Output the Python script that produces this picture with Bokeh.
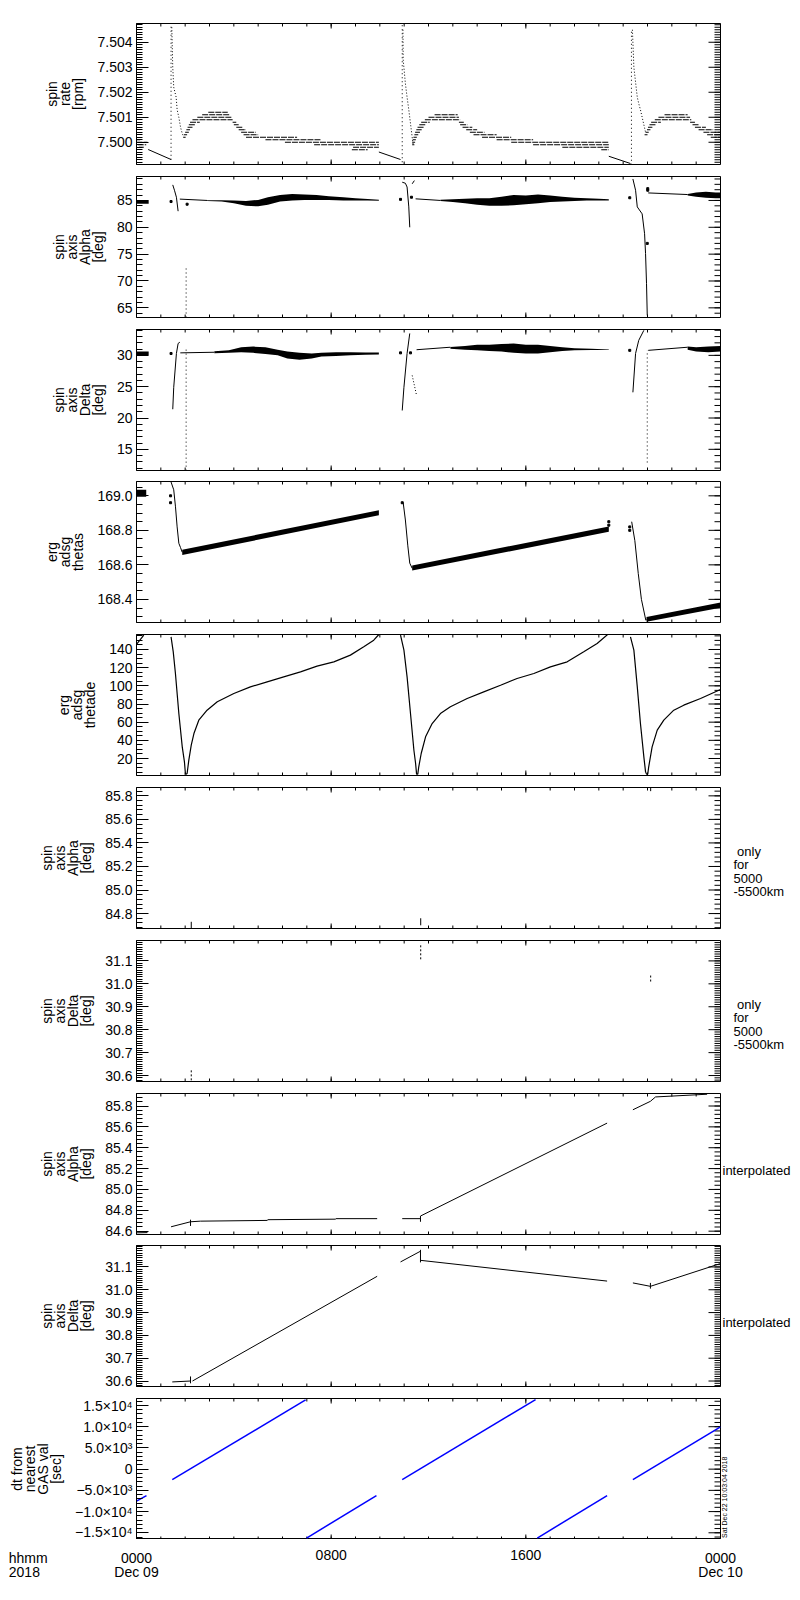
import numpy as np
from bokeh.plotting import figure
from bokeh.models import Range1d, FixedTicker, LinearAxis, PrintfTickFormatter
from bokeh.layouts import column
from bokeh.embed import file_html
from bokeh.resources import INLINE
from bokeh.core.properties import value

FONT = "Liberation Sans"
NB = "\u00a0"

# ---------------- data (hours since 2018-12-09 00:00) ----------------
x_major = [0, 8, 16, 24]
x_minor = list(range(25))
x_tick_text = ["0000\nDec 09", "0800", "1600", "0000\nDec 10"]
corner_text = "hhmm\n2018"
stamp_text = "Sat Dec 22 10:03:04 2018"

# Panel 1: spin rate [rpm] - quantized level segments
p1_seg_start = [0.00, 0.00, 0.05, 0.10,
                1.92, 1.95, 2.00, 2.05, 2.10, 2.15, 2.20, 2.30, 2.50, 2.70, 2.95,
                3.95, 4.00, 4.10, 4.20, 4.30, 4.40, 4.50, 5.30, 6.10, 7.30, 8.90, 8.85,
                11.33, 11.33, 11.35, 11.38, 11.42, 11.45, 11.50, 11.55, 11.62, 11.70, 11.85, 12.00, 12.25,
                13.25, 13.30, 13.40, 13.55, 13.70, 13.85, 14.20, 14.80, 15.40, 16.30, 17.50, 19.10,
                20.88, 20.92, 20.98, 21.02, 21.08, 21.15, 21.30, 21.45, 21.70,
                22.75, 22.85, 22.95, 23.10, 23.30, 23.45, 23.60]
p1_seg_end = [0.15, 0.45, 0.40, 0.30,
              2.02, 2.08, 2.15, 2.20, 2.30, 2.40, 2.60, 3.95, 3.90, 3.85, 3.75,
              4.10, 4.20, 4.35, 4.50, 4.90, 5.00, 6.60, 7.60, 9.96, 9.96, 9.96, 9.50,
              11.42, 11.45, 11.48, 11.52, 11.58, 11.65, 11.72, 11.80, 11.90, 12.05, 13.30, 13.25, 13.20,
              13.45, 13.60, 13.80, 14.00, 14.30, 14.80, 15.40, 16.30, 19.41, 19.41, 19.41, 19.41,
              21.00, 21.05, 21.12, 21.20, 21.35, 21.55, 22.80, 22.75, 22.65,
              22.95, 23.10, 23.40, 23.70, 24.00, 24.00, 24.00]
p1_seg_level = [7.5001, 7.5000, 7.4999, 7.4998,
                7.5002, 7.5003, 7.5004, 7.5005, 7.5006, 7.5007, 7.5008, 7.5009, 7.5010, 7.5011, 7.5012,
                7.5008, 7.5007, 7.5006, 7.5005, 7.5004, 7.5003, 7.5002, 7.5001, 7.5000, 7.4999, 7.4998, 7.4997,
                7.4999, 7.5000, 7.5001, 7.5002, 7.5003, 7.5004, 7.5005, 7.5006, 7.5007, 7.5008, 7.5009, 7.5010, 7.5011,
                7.5008, 7.5007, 7.5006, 7.5005, 7.5004, 7.5003, 7.5002, 7.5001, 7.5000, 7.4999, 7.4998, 7.4997,
                7.5003, 7.5004, 7.5005, 7.5006, 7.5007, 7.5008, 7.5009, 7.5010, 7.5011,
                7.5008, 7.5007, 7.5006, 7.5005, 7.5004, 7.5003, 7.5002]
p1_decay_h = [[0.48, 1.42], [9.96, 10.85], [19.41, 20.30]]
p1_decay_v = [[7.49971, 7.49931], [7.49961, 7.49931], [7.49944, 7.49915]]
p1_spike_h = [1.42, 10.92, 20.34]
p1_spike_lo = [7.4993, 7.4992, 7.4991]
p1_spike_hi = [7.5047, 7.5047, 7.5045]
p1_fall_h = [[1.45, 1.49, 1.53, 1.63, 1.67, 1.74, 1.81, 1.88, 1.95],
             [10.95, 10.96, 11.05, 11.12, 11.19, 11.26, 11.33, 11.37],
             [20.38, 20.44, 20.51, 20.58, 20.64, 20.71, 20.78, 20.85, 20.92]]
p1_fall_v = [[7.5046, 7.5030, 7.5022, 7.5018, 7.5013, 7.5010, 7.5006, 7.50035, 7.5002],
             [7.5045, 7.5033, 7.50235, 7.5018, 7.5013, 7.50075, 7.5002, 7.4999],
             [7.5045, 7.5030, 7.5024, 7.5018, 7.50155, 7.5013, 7.5010, 7.5007, 7.5004]]

# Panel 2: spin axis Alpha [deg]
p2_curve_h = [[1.49, 1.56, 1.64, 1.71], [1.78, 2.9], [10.92, 11.05, 11.12, 11.19, 11.23],
              [11.33, 11.42], [11.47, 12.49],
              [20.40, 20.51, 20.58, 20.78, 20.88, 20.92, 20.96, 20.99], [21.03, 22.65]]
p2_curve_v = [[87.9, 86.9, 85.6, 83.0], [85.25, 85.0], [88.4, 88.2, 87.5, 83.8, 80.0],
              [88.1, 88.7], [85.3, 85.0],
              [89.0, 86.9, 83.8, 82.5, 78.8, 75.1, 69.5, 63.6], [86.4, 86.1]]
p2_dot_h = [1.42, 2.08, 10.85, 11.30, 20.27, 21.01, 21.01, 20.99]
p2_dot_v = [84.8, 84.3, 85.2, 85.6, 85.5, 87.2, 86.9, 77.0]
p2_vert_h = [2.04]
p2_vert_lo = [63.2]
p2_vert_hi = [72.5]
p2_band_h = [[0.0, 0.5],
             [2.9, 3.5, 4.0, 4.5, 5.0, 5.4, 5.9, 6.4, 6.9, 7.4, 7.9, 8.5, 9.0, 9.5, 9.96],
             [12.49, 13.0, 13.5, 14.0, 14.5, 15.0, 15.5, 16.0, 16.5, 17.0, 17.5, 18.0, 18.5, 19.0, 19.41],
             [22.65, 23.0, 23.4, 23.8, 24.0]]
p2_band_lo = [[84.4, 84.4],
              [84.9, 84.8, 84.5, 84.0, 83.9, 84.2, 84.8, 85.0, 85.1, 85.1, 85.1, 85.0, 85.0, 85.0, 84.95],
              [84.9, 84.7, 84.5, 84.2, 84.0, 84.0, 84.1, 84.3, 84.5, 84.7, 84.8, 84.9, 85.0, 85.0, 85.0],
              [85.9, 85.7, 85.5, 85.4, 85.4]]
p2_band_hi = [[85.0, 85.0],
              [85.05, 85.05, 85.0, 84.9, 85.1, 85.6, 86.0, 86.2, 86.1, 86.0, 85.8, 85.6, 85.4, 85.25, 85.15],
              [85.15, 85.2, 85.3, 85.4, 85.4, 85.7, 86.0, 85.9, 86.1, 85.9, 85.7, 85.5, 85.4, 85.3, 85.2],
              [86.2, 86.5, 86.6, 86.5, 86.5]]

# Panel 3: spin axis Delta [deg]
p3_curve_h = [[1.49, 1.53, 1.64, 1.71, 1.78], [1.80, 3.2], [10.92, 10.99, 11.12, 11.23],
              [11.51, 12.9], [20.40, 20.51, 20.64, 20.85], [21.03, 22.65]]
p3_curve_v = [[21.4, 24.9, 30.3, 31.9, 32.1], [30.4, 30.5], [21.2, 24.9, 30.3, 33.5],
              [30.9, 31.3], [24.1, 30.3, 32.4, 34.0], [30.8, 31.3]]
p3_fall_h = [[11.33, 11.42, 11.51]]
p3_fall_v = [[26.8, 25.2, 23.6]]
p3_dot_h = [1.42, 10.85, 11.26, 20.27]
p3_dot_v = [30.3, 30.4, 30.4, 30.8]
p3_vert_h = [2.04, 20.99]
p3_vert_lo = [11.6, 12.9]
p3_vert_hi = [31.3, 30.8]
p3_band_h = [[0.0, 0.5],
             [3.2, 3.8, 4.3, 4.8, 5.3, 5.8, 6.2, 6.7, 7.2, 7.6, 8.2, 8.8, 9.4, 9.96],
             [12.9, 13.5, 14.0, 14.5, 15.0, 15.5, 16.0, 16.5, 17.0, 17.5, 18.0, 18.7, 19.41],
             [22.65, 23.0, 23.5, 24.0]]
p3_band_lo = [[30.0, 30.0],
              [30.35, 30.4, 30.5, 30.4, 30.2, 30.0, 29.5, 29.3, 29.5, 29.8, 29.9, 30.0, 30.1, 30.15],
              [31.05, 30.9, 30.8, 30.7, 30.6, 30.4, 30.3, 30.3, 30.5, 30.7, 30.8, 30.85, 30.85],
              [30.9, 30.6, 30.5, 30.6]]
p3_band_hi = [[30.6, 30.6],
              [30.65, 30.8, 31.3, 31.4, 31.3, 30.9, 30.6, 30.4, 30.3, 30.4, 30.5, 30.5, 30.45, 30.45],
              [31.35, 31.5, 31.7, 31.7, 31.8, 31.9, 31.7, 31.7, 31.5, 31.3, 31.15, 31.05, 30.95],
              [31.4, 31.3, 31.4, 31.5]]

# Panel 4: erg adsg thetas
p4_curve_h = [[1.42, 1.53, 1.60, 1.67, 1.74, 1.81, 1.88],
              [10.96, 11.05, 11.15, 11.23, 11.33],
              [20.35, 20.48, 20.62, 20.75, 20.93, 20.96]]
p4_curve_v = [[169.08, 169.035, 168.94, 168.82, 168.725, 168.70, 168.673],
              [168.96, 168.86, 168.71, 168.61, 168.58],
              [168.85, 168.74, 168.55, 168.40, 168.28, 168.284]]
p4_dot_h = [1.40, 1.40, 10.92, 19.41, 19.41, 20.27, 20.27]
p4_dot_v = [169.0, 168.96, 168.96, 168.85, 168.83, 168.82, 168.80]
p4_band_h = [[0.0, 0.4], [1.88, 9.96], [11.33, 19.41], [20.96, 24.0]]
p4_band_lo = [[168.995, 168.995], [168.657, 168.887], [168.567, 168.792], [168.270, 168.352]]
p4_band_hi = [[169.035, 169.035], [168.687, 168.917], [168.597, 168.822], [168.298, 168.382]]

# Panel 5: erg adsg thetade
p5_h = [[0.0, 0.30],
        [1.42, 1.51, 1.60, 1.74, 1.88, 1.97, 2.01, 2.04, 2.08, 2.15, 2.25, 2.36, 2.56, 2.90, 3.32,
         4.0, 4.68, 5.37, 6.05, 6.74, 7.42, 8.11, 8.79, 9.34, 9.75, 9.96],
        [10.85, 10.99, 11.12, 11.26, 11.40, 11.47, 11.51, 11.56, 11.60, 11.70, 11.88, 12.15, 12.49,
         12.90, 13.59, 14.27, 14.96, 15.64, 16.33, 17.01, 17.70, 18.38, 18.93, 19.41],
        [20.30, 20.44, 20.58, 20.71, 20.85, 20.92, 20.96, 21.01, 21.05, 21.19, 21.40, 21.67, 22.08,
         22.49, 23.18, 24.0]]
p5_v = [[145.6, 155.8],
        [153.9, 137.4, 113.6, 69.5, 32.8, 16.3, 3.5, 2.8, 3.5, 18.2, 34.7, 47.5, 62.2, 73.2, 82.4,
         91.6, 98.9, 104.4, 109.9, 115.4, 121.7, 126.4, 133.8, 142.9, 150.3, 156.5],
        [155.8, 139.3, 109.9, 69.5, 29.1, 14.5, 2.8, 2.8, 10.9, 25.5, 43.9, 58.5, 69.5,
         76.9, 86.1, 93.4, 100.7, 108.1, 113.6, 120.9, 126.4, 137.4, 146.6, 157.6],
        [153.9, 139.3, 98.9, 58.5, 21.8, 5.3, 2.8, 2.8, 10.9, 32.8, 51.2, 62.2, 73.2,
         78.7, 86.1, 96.0]]

# Panel 6 / 7: only for 5000-5500 km
p6_mark_h = [2.25, 11.68, 21.13]
p6_mark_lo = [84.673, 84.70, 85.84]
p6_mark_hi = [84.73, 84.76, 85.871]
p7_mark_h = [2.25, 11.68, 21.13]
p7_mark_lo = [30.579, 31.107, 31.01]
p7_mark_hi = [30.625, 31.177, 31.04]

# Panel 8: interpolated Alpha
p8_h = [[0.0, 0.45], [1.42, 2.22, 2.63, 5.37, 5.40, 8.17, 8.20, 9.89], [10.92, 11.67],
        [11.67, 19.34], [20.40, 21.12, 21.33, 23.45]]
p8_v = [[84.584, 84.586], [84.642, 84.69, 84.696, 84.703, 84.71, 84.715, 84.72, 84.72],
        [84.72, 84.72], [84.745, 85.636], [85.764, 85.845, 85.887, 85.913]]
p8_tick_h = [2.22, 11.67]
p8_tick_lo = [84.65, 84.69]
p8_tick_hi = [84.71, 84.745]

# Panel 9: interpolated Delta
p9_h = [[1.47, 2.22], [2.30, 9.89], [10.85, 11.67], [11.67, 19.34], [20.40, 21.12, 24.0]]
p9_v = [[30.596, 30.600], [30.600, 31.059], [31.122, 31.169], [31.129, 31.038],
        [31.030, 31.015, 31.115]]
p9_tick_h = [2.22, 11.67, 21.12]
p9_tick_lo = [30.59, 31.12, 31.005]
p9_tick_hi = [30.62, 31.175, 31.03]

# Panel 10: dt from nearest GAS val [sec]
p10_h = [[0.0, 0.41], [1.47, 6.95], [6.99, 9.86], [10.92, 16.40], [16.47, 19.34], [20.40, 24.0]]
p10_v = [[-7539, -6218], [-2487, 16321], [-16243, -6218], [-2487, 16399], [-16243, -6218],
         [-2487, 9948]]
p10_tick_labels = {15000: "1.5×10⁴", 10000: "1.0×10⁴", 5000: "5.0×10³", 0: "0",
                   -5000: "−5.0×10³", -10000: "−1.0×10⁴", -15000: "−1.5×10⁴"}

# ---------------- layout constants (page has no body margin) ----------------
FW, FH = 584, 141
LB, RB = 136, 72


def add_inner_ticks(p, ylo, yhi, y_majors, y_minors):
    """Inward-pointing ticks on top/bottom/right edges (IDL style)."""
    dy = (yhi - ylo) / FH
    dx = 24.0 / FW
    for (edge, sgn) in ((yhi, -1), (ylo, 1)):
        p.segment(x0=x_minor, y0=[edge] * len(x_minor), x1=x_minor,
                  y1=[edge + sgn * 3 * dy] * len(x_minor), line_color="black", line_width=1)
        p.segment(x0=x_major, y0=[edge] * len(x_major), x1=x_major,
                  y1=[edge + sgn * 5 * dy] * len(x_major), line_color="black", line_width=1)
    p.segment(x0=[24] * len(y_minors), y0=y_minors, x1=[24 - 6 * dx] * len(y_minors), y1=y_minors,
              line_color="black", line_width=1)
    p.segment(x0=[24] * len(y_majors), y0=y_majors, x1=[24 - 12 * dx] * len(y_majors), y1=y_majors,
              line_color="black", line_width=1)


def make_panel(ylo, yhi, majors, minors, fmt, label, top, bottom, overrides=None,
               right_label=None, right_standoff=6):
    p = figure(frame_width=FW, frame_height=FH, x_range=Range1d(0, 24),
               y_range=Range1d(ylo, yhi), output_backend="svg", toolbar_location=None,
               x_axis_location=None,
               min_border_left=LB, min_border_right=RB, min_border_top=top,
               min_border_bottom=bottom, background_fill_color="white",
               border_fill_color="white", outline_line_color="black")
    p.xgrid.visible = False
    p.ygrid.visible = False
    ya = p.yaxis[0]
    ya.ticker = FixedTicker(ticks=majors, minor_ticks=minors)
    ya.major_tick_in = 12
    ya.major_tick_out = 0
    ya.minor_tick_in = 6
    ya.minor_tick_out = 0
    ya.axis_line_color = "black"
    ya.major_tick_line_color = "black"
    ya.minor_tick_line_color = "black"
    ya.major_label_text_font = FONT
    ya.major_label_text_font_size = "14px"
    ya.major_label_text_color = "black"
    ya.major_label_standoff = 4
    if overrides is not None:
        ya.major_label_overrides = overrides
    else:
        ya.formatter = PrintfTickFormatter(format=fmt)
    ya.axis_label = label
    ya.axis_label_text_font = FONT
    ya.axis_label_text_font_size = "14px"
    ya.axis_label_text_font_style = "normal"
    ya.axis_label_text_color = "black"
    ya.axis_label_text_line_height = 0.82
    ya.axis_label_standoff = 8
    if right_label is not None:
        ra = LinearAxis(ticker=FixedTicker(ticks=[]), axis_label=right_label,
                        axis_label_orientation="horizontal",
                        axis_label_standoff=right_standoff,
                        axis_label_text_font=FONT, axis_label_text_font_size="13px",
                        axis_label_text_font_style="normal", axis_label_text_color="black",
                        axis_label_text_align="left", axis_label_text_line_height=0.9,
                        axis_line_color=None, major_tick_line_color=None,
                        minor_tick_line_color=None)
        p.add_layout(ra, "right")
    add_inner_ticks(p, ylo, yhi, majors, minors)
    return p


def vsegs(p, h, lo, hi, dash="solid", width=1):
    p.segment(x0=h, y0=lo, x1=h, y1=hi, line_color="black", line_width=width, line_dash=dash)


def bands(p, hs, los, his):
    for h, lo, hi in zip(hs, los, his):
        p.varea(x=h, y1=lo, y2=hi, fill_color="black")


ALPHA = "spin\naxis\nAlpha\n[deg]"
DELTA = "spin\naxis\nDelta\n[deg]"
ONLY = NB + "\n" + NB + "\n" + NB + "only\nfor\n5000\n-5500km"
INTERP = NB + "\ninterpolated"
figs = []

# Panel 1
p = make_panel(7.49911, 7.50475, [7.500, 7.501, 7.502, 7.503, 7.504],
               list(np.round(np.arange(7.4992, 7.5048, 0.0001), 4)), "%.3f",
               "spin\nrate\n[rpm]", 23, 6)
p.segment(x0=p1_seg_start, y0=p1_seg_level, x1=p1_seg_end, y1=p1_seg_level,
          line_color="black", line_width=1, line_dash="6 1")
p.multi_line(xs=p1_decay_h, ys=p1_decay_v, line_color="black", line_width=1)
vsegs(p, p1_spike_h, p1_spike_lo, p1_spike_hi, dash="1 3")
p.multi_line(xs=p1_fall_h, ys=p1_fall_v, line_color="black", line_width=1, line_dash="1 2")
figs.append(p)

# Panel 2
p = make_panel(63.2, 89.46, [65, 70, 75, 80, 85], list(range(64, 90)), "%d", ALPHA, 6, 6)
bands(p, p2_band_h, p2_band_lo, p2_band_hi)
p.multi_line(xs=p2_curve_h, ys=p2_curve_v, line_color="black", line_width=1)
p.scatter(p2_dot_h, p2_dot_v, marker="square", size=2, color="black")
vsegs(p, p2_vert_h, p2_vert_lo, p2_vert_hi, dash="1 3")
figs.append(p)

# Panel 3
p = make_panel(11.62, 34.13, [15, 20, 25, 30], list(range(12, 35)), "%d", DELTA, 6, 5)
bands(p, p3_band_h, p3_band_lo, p3_band_hi)
p.multi_line(xs=p3_curve_h, ys=p3_curve_v, line_color="black", line_width=1)
p.multi_line(xs=p3_fall_h, ys=p3_fall_v, line_color="black", line_width=1, line_dash="1 2")
p.scatter(p3_dot_h, p3_dot_v, marker="square", size=2, color="black")
vsegs(p, p3_vert_h, p3_vert_lo, p3_vert_hi, dash="1 3")
figs.append(p)

# Panel 4
p = make_panel(168.266, 169.083, [168.4, 168.6, 168.8, 169.0],
               list(np.round(np.arange(168.30, 169.09, 0.05), 2)), "%.1f",
               "erg\nadsg\nthetas", 6, 6)
bands(p, p4_band_h, p4_band_lo, p4_band_hi)
p.multi_line(xs=p4_curve_h, ys=p4_curve_v, line_color="black", line_width=1)
p.scatter(p4_dot_h, p4_dot_v, marker="square", size=2, color="black")
figs.append(p)

# Panel 5
p = make_panel(1.3, 156.5, [20, 40, 60, 80, 100, 120, 140], list(range(5, 157, 5)), "%d",
               "erg\nadsg\nthetade", 6, 6)
p.multi_line(xs=p5_h, ys=p5_v, line_color="black", line_width=1.2)
figs.append(p)

# Panel 6
p = make_panel(84.673, 85.871, [84.8, 85.0, 85.2, 85.4, 85.6, 85.8],
               list(np.round(np.arange(84.68, 85.88, 0.04), 2)), "%.1f", ALPHA, 6, 6,
               right_label=ONLY, right_standoff=13)
vsegs(p, p6_mark_h, p6_mark_lo, p6_mark_hi)
figs.append(p)

# Panel 7
p = make_panel(30.574, 31.189, [30.6, 30.7, 30.8, 30.9, 31.0, 31.1],
               list(np.round(np.arange(30.58, 31.19, 0.01), 2)), "%.1f", DELTA, 6, 6,
               right_label=ONLY, right_standoff=13)
vsegs(p, p7_mark_h, p7_mark_lo, p7_mark_hi, dash="2 2")
figs.append(p)

# Panel 8
p = make_panel(84.568, 85.92, [84.6, 84.8, 85.0, 85.2, 85.4, 85.6, 85.8],
               list(np.round(np.arange(84.56, 85.93, 0.04), 2)), "%.1f", ALPHA, 6, 5,
               right_label=INTERP, right_standoff=2)
p.multi_line(xs=p8_h, ys=p8_v, line_color="black", line_width=1)
vsegs(p, p8_tick_h, p8_tick_lo, p8_tick_hi)
figs.append(p)

# Panel 9
p = make_panel(30.576, 31.194, [30.6, 30.7, 30.8, 30.9, 31.0, 31.1],
               list(np.round(np.arange(30.58, 31.20, 0.01), 2)), "%.1f", DELTA, 6, 6,
               right_label=INTERP, right_standoff=2)
p.multi_line(xs=p9_h, ys=p9_v, line_color="black", line_width=1)
vsegs(p, p9_tick_h, p9_tick_lo, p9_tick_hi)
figs.append(p)

# Panel 10
P10_LO, P10_HI = -16580, 16650
p = make_panel(P10_LO, P10_HI, list(p10_tick_labels.keys()), list(range(-16000, 16001, 1000)),
               None, "dt from\nnearest\nGAS val\n[sec]", 6, 0, overrides=p10_tick_labels)
p.multi_line(xs=p10_h, ys=p10_v, line_color="#0000ff", line_width=1.5)
# plot time stamp: rotated text that starts just above the lower frame edge
stamp_y = P10_LO + 1.5 * (P10_HI - P10_LO) / FH
sa = LinearAxis(ticker=FixedTicker(ticks=[stamp_y]), major_label_overrides={stamp_y: stamp_text},
                major_label_orientation=np.pi / 2, major_label_standoff=4,
                major_label_text_font=FONT, major_label_text_font_size="7px",
                major_label_text_color="black", major_tick_in=0, major_tick_out=0,
                minor_tick_in=0, minor_tick_out=0, axis_line_color=None,
                major_tick_line_color=None, minor_tick_line_color=None)
p.add_layout(sa, "right")
figs.append(p)

# Time-axis labels row (same horizontal scale as the panels above, full page width)
hx0 = -LB * 24.0 / FW
hx1 = 24 + RB * 24.0 / FW
q = figure(frame_width=LB + FW + RB, frame_height=42, x_range=Range1d(hx0, hx1),
           y_range=Range1d(0, 42), output_backend="svg", toolbar_location=None,
           x_axis_location=None, y_axis_location=None, min_border=0,
           background_fill_color="white", border_fill_color="white", outline_line_color=None)
try:
    q.frame_align = False
except Exception:
    pass
q.xgrid.visible = False
q.ygrid.visible = False
q.text(x=x_major, y=[32] * len(x_major), text=x_tick_text, text_align="center",
       text_baseline="top", text_font=value(FONT), text_font_size="14px",
       text_color="black", text_line_height=0.88)
q.text(x=[hx0 + 8.3 * 24.0 / FW], y=[32], text=[corner_text], text_align="left",
       text_baseline="top", text_font=value(FONT), text_font_size="14px", text_color="black",
       text_line_height=0.88)
figs.append(q)

layout = column(*figs, spacing=0)
open("out.html", "w").write(file_html(layout, INLINE))
